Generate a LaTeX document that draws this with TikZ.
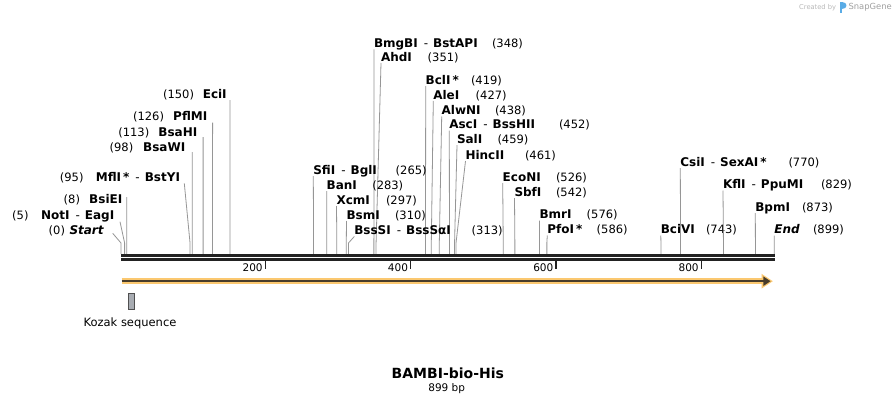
\documentclass[tikz,border=0pt]{standalone}
\usepackage{fontspec}
\setmainfont{DejaVu Sans}
\definecolor{cutgray}{RGB}{150,150,150}
\definecolor{bbdark}{RGB}{34,34,34}
\definecolor{glow}{RGB}{251,200,112}
\definecolor{featdark}{RGB}{72,60,42}
\definecolor{kozakfill}{RGB}{168,172,178}
\definecolor{kozakedge}{RGB}{80,80,80}
\definecolor{wmgray}{RGB}{185,185,185}
\definecolor{wmdark}{RGB}{160,160,160}
\definecolor{logoblue}{RGB}{90,172,230}
\newcommand\dsh{\hspace{6pt}{\mdseries-}\hspace{5pt}}
% right-hand label: id, name x, text centre y, name, number x, bp
\newcommand\rsite[6]{%
  \node[enz, anchor=base west] (#1) at (#2,#3+4) {#4};
  \node[num, anchor=base west] (#1-n) at (#5,#3+4) {(#6)};
  \coordinate (#1-k) at ({121+#6*0.7267},243);
  \coordinate (#1-s) at ({121+#6*0.7267},254);
  \draw[cutline] (#1.south west) -- (#1-k) -- (#1-s);
}
% left-hand label: id, name right x, text centre y, name, number right x, bp, line top x, line top y
\newcommand\lsite[8]{%
  \node[enz, anchor=base east] (#1) at (#2,#3+4) {#4};
  \node[num, anchor=base east] (#1-n) at (#5,#3+4) {(#6)};
  \coordinate (#1-t) at (#7,#8);
  \coordinate (#1-k) at ({121+#6*0.7267},243);
  \coordinate (#1-s) at ({121+#6*0.7267},254);
  \draw[cutline] (#1-t) -- (#1-k) -- (#1-s);
}
\begin{document}
\begin{tikzpicture}[x=1pt,y=-1pt,
  enz/.style={font=\fontsize{12}{14}\selectfont\bfseries, inner sep=0pt, outer sep=0pt, text height=8pt, text depth=2pt},
  num/.style={font=\fontsize{11.5}{13}\selectfont, inner sep=0pt, outer sep=0pt, text height=8pt, text depth=2pt},
  cutline/.style={draw=cutgray, line width=0.8pt},
  strand/.style={draw=bbdark},
  tickmk/.style={draw=bbdark, line width=1.5pt},
  ticklbl/.style={font=\fontsize{10.5}{12}\selectfont, inner sep=0pt},
]
\useasboundingbox (0,0) rectangle (896,404);
\fill[white] (0,0) rectangle (896,404);

% backbone
\coordinate (bbL1) at (121,255.5); \coordinate (bbR1) at (775,255.5);
\coordinate (bbL2) at (121,259.5); \coordinate (bbR2) at (775,259.5);

% right-hand labels
\rsite{bmg}{374}{43.5}{BmgBI\dsh BstAPI}{492}{348}
\rsite{ahd}{381}{57}{AhdI}{427.7}{351}
\rsite{bcl}{425.7}{80}{BclI\,*}{471}{419}
\rsite{ale}{433.3}{95}{AleI}{475.7}{427}
\rsite{alw}{441.7}{110.5}{AlwNI}{495}{438}
\rsite{asc}{449.3}{124.7}{AscI\dsh BssHII}{559}{452}
\rsite{sal}{457}{139.2}{SalI}{497.5}{459}
\rsite{hinc}{465.5}{155}{HincII}{525}{461}
\rsite{sfi}{313.3}{170}{SfiI\dsh BglI}{395.7}{265}
\rsite{ban}{326.7}{185}{BanI}{372.3}{283}
\rsite{xcm}{336.5}{200}{XcmI}{386}{297}
\rsite{bsm}{346.5}{215}{BsmI}{395}{310}
\rsite{bss}{354.3}{230.5}{BssSI\dsh BssSαI}{471.7}{313}
\rsite{eco}{502.7}{177}{EcoNI}{556}{526}
\rsite{sbf}{514.5}{192}{SbfI}{556}{542}
\rsite{bmr}{539.5}{214.5}{BmrI}{586.7}{576}
\rsite{pfo}{547.3}{229.5}{PfoI\,*}{596.7}{586}
\rsite{bci}{660.8}{229.5}{BciVI}{706}{743}
\rsite{csi}{680.3}{162}{CsiI\dsh SexAI\,*}{788.5}{770}
\rsite{kfl}{723}{184.5}{KflI\dsh PpuMI}{821}{829}
\rsite{bpm}{755.3}{207}{BpmI}{802}{873}
\rsite{endl}{774.3}{229.5}{\textit{End}}{813}{899}

% left-hand labels
\lsite{eci}{226.7}{94.5}{EciI}{194}{150}{230}{100}
\lsite{pfl}{207.3}{116.5}{PflMI}{164}{126}{212.6}{122.7}
\lsite{bsah}{197.3}{132}{BsaHI}{149.3}{113}{203.1}{137}
\lsite{bsaw}{185.3}{147}{BsaWI}{133.3}{98}{192.2}{152}
\lsite{mfl}{180}{177}{MflI\,*\dsh BstYI}{83.5}{95}{184.3}{183.3}
\lsite{bsie}{122.3}{199}{BsiEI}{80}{8}{126.8}{197}
\lsite{notl}{114.3}{215.5}{NotI\dsh EagI}{28.5}{5}{120}{221.7}
\lsite{startl}{104}{230}{\textit{Start}}{65}{0}{112.7}{233.3}

% DNA strands
\draw[strand, line width=3pt] (bbL1) -- (bbR1);
\draw[strand, line width=2.4pt] (bbL2) -- (bbR2);

% ticks
\foreach \v/\n in {200/tk2,400/tk4,600/tk6,800/tk8}{
  \coordinate (\n-a) at ({121+\v*0.7267-1},261);
  \coordinate (\n-b) at ({121+\v*0.7267-1},268.5);
  \draw[tickmk] (\n-a) -- (\n-b);
  \node[ticklbl, anchor=base east] (\n-l) at ({121+\v*0.7267-3.5},271) {\v};
}

% feature arrow
\coordinate (fA) at (121.7,281.2);
\coordinate (fG) at (765,281.2);
\coordinate (fD) at (764,281.2);
\coordinate (fB) at (770.5,281.2);
\draw[line width=5.7pt, glow] (fA) -- (fG);
\fill[glow] (761.5,273.8) -- (772.8,281.2) -- (761.5,288.6) -- cycle;
\draw[line width=2.3pt, featdark] (fA) -- (fD);
\fill[featdark] (763.3,276.4) -- (fB) -- (763.3,286) -- cycle;

% Kozak sequence
\node[draw=kozakedge, fill=kozakfill, line width=0.8pt, minimum width=6pt, minimum height=16pt, inner sep=0pt] (kz) at (131.7,301) {};
\node[font=\fontsize{11.5}{13}\selectfont, inner sep=0pt] (kzl) at (130,323) {Kozak sequence};

% title
\node[font=\fontsize{14}{16}\selectfont\bfseries, inner sep=0pt] (title) at (447.8,373.3) {BAMBI-bio-His};
\node[font=\fontsize{10.5}{12}\selectfont, inner sep=0pt] (len) at (446.7,388.3) {899 bp};

% watermark
\node[font=\fontsize{6.7}{8}\selectfont, text=wmgray, inner sep=0pt, anchor=west] (wm1) at (799,8) {Created by};
\fill[logoblue] (839.5,2.2) rectangle (842.2,12.6);
\fill[logoblue] (842.2,2.2) .. controls (847.5,2.2) and (847.5,8.6) .. (842.2,8.6) -- cycle;
\node[font=\fontsize{8.4}{10}\selectfont, text=wmdark, inner sep=0pt, anchor=west] (wm2) at (848.3,7.5) {SnapGene};
\end{tikzpicture}
\end{document}
